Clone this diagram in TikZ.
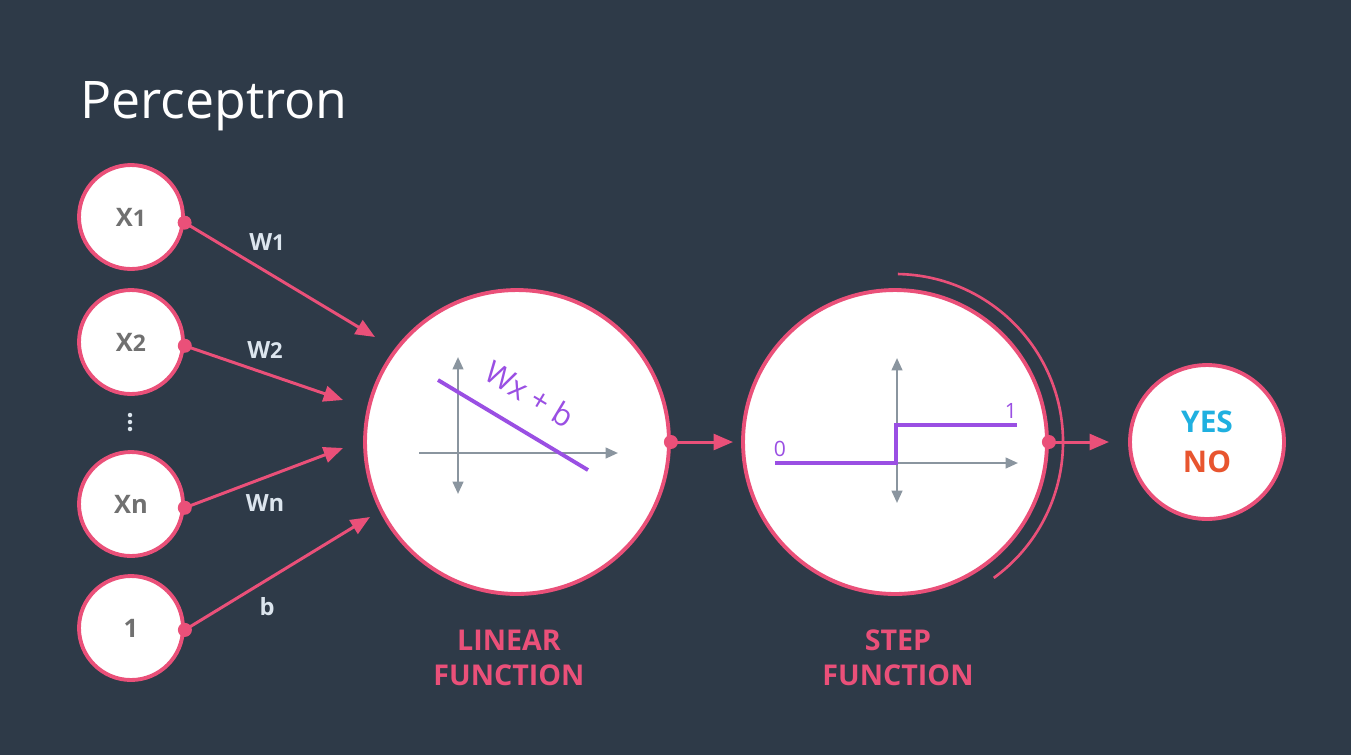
\documentclass[tikz,border=0pt]{standalone}
\usepackage{fontspec}
\setmainfont{Open Sans}
\usetikzlibrary{arrows.meta}
\definecolor{bg}{RGB}{46,58,72}
\definecolor{pink}{RGB}{234,80,121}
\definecolor{axisgray}{RGB}{138,149,159}
\definecolor{purp}{RGB}{154,79,227}
\definecolor{lbl}{RGB}{220,229,238}
\definecolor{ingray}{RGB}{112,112,112}
\definecolor{yescol}{RGB}{31,176,224}
\definecolor{nocol}{RGB}{232,85,47}
\tikzset{
  neuron/.style={circle, draw=pink, fill=white, line width=2.2pt, inner sep=0pt},
  inbox/.style={neuron, minimum size=2.08cm, font=\fontsize{14.5}{16}\selectfont\bfseries, text=ingray},
  bigbox/.style={neuron, minimum size=6.08cm},
  outbox/.style={neuron, minimum size=3.08cm},
  conn/.style={draw=pink, line width=1.7pt, -{Triangle[length=11pt,width=9pt]}},
  dotmark/.style={circle, fill=pink, inner sep=0pt, minimum size=0.28cm},
  wlabel/.style={text=lbl, font=\fontsize{13.5}{15}\selectfont\bfseries},
  axis/.style={draw=axisgray, line width=1.3pt},
  fnline/.style={draw=purp, line width=2.2pt},
  caption/.style={text=pink, font=\fontsize{16.3}{20}\selectfont\bfseries, align=center},
  smalldot/.style={circle, fill=lbl, inner sep=0pt, minimum size=0.09cm},
}
\begin{document}
\begin{tikzpicture}[x=0.02cm, y=-0.02cm]
\fill[bg] (0,0) rectangle (1351,755);
\useasboundingbox (0,0) rectangle (1351,755);

\node[text=white, font=\fontsize{29.5}{34}\selectfont, anchor=base west, inner sep=0pt] (title) at (80,118) {Perceptron};

% input nodes
\node[inbox] (x1) at (131,217) {X{\fontsize{13}{15}\selectfont 1}};
\node[inbox] (x2) at (131,342) {X{\fontsize{13}{15}\selectfont 2}};
\node[inbox] (xn) at (131,504) {Xn};
\node[inbox] (one) at (131,628) {1};
\node[smalldot] (v1) at (130,415) {};
\node[smalldot] (v2) at (130,422) {};
\node[smalldot] (v3) at (130,429) {};

% main nodes
\node[bigbox] (lin) at (517,442) {};
\node[bigbox] (step) at (895,442) {};
\node[outbox, align=center, font=\fontsize{17}{21}\selectfont\bfseries] (out) at (1207,442) {\textcolor{yescol}{YES}\\[2pt]\textcolor{nocol}{NO}};

% output arc
\draw[pink, line width=1.5pt] (895,442) ++(-89:168) arc[start angle=-89, end angle=54, radius=168];

% connector end points
\coordinate (t1) at (375,337);
\coordinate (t2) at (343,400);
\coordinate (tn) at (343,448);
\coordinate (tb) at (370,517);
\coordinate (tl) at (733,442);
\coordinate (ts) at (1109,442);

\draw[conn] (x1.-6) -- (t1);
\draw[conn] (x2.-4) -- (t2);
\draw[conn] (xn.-4) -- (tn);
\draw[conn] (one.-2) -- (tb);
\draw[conn] (lin.east) -- (tl);
\draw[conn] (step.east) -- (ts);

\node[dotmark] (d1) at (x1.-6) {};
\node[dotmark] (d2) at (x2.-4) {};
\node[dotmark] (dn) at (xn.-4) {};
\node[dotmark] (db) at (one.-2) {};
\node[dotmark] (dl) at (lin.east) {};
\node[dotmark] (ds) at (step.east) {};

% weight labels
\node[wlabel] (w1) at (267,242) {W{\fontsize{12.5}{15}\selectfont 1}};
\node[wlabel] (w2) at (265,350) {W{\fontsize{12.5}{15}\selectfont 2}};
\node[wlabel] (wn) at (265,503) {Wn};
\node[wlabel] (wb) at (267,607) {b};

% linear function graph
\draw[axis, {Triangle[length=7pt,width=6pt]}-{Triangle[length=7pt,width=6pt]}] (458,357) -- (458,494);
\draw[axis, -{Triangle[length=7pt,width=6pt]}] (419,453) -- (618,453);
\draw[fnline] (438,380) -- (588,470);
\node[text=purp, font=\fontsize{17.5}{20}\selectfont, rotate=-31, inner sep=1pt] (wxb) at (530,394) {Wx + b};

% step function graph
\draw[axis, {Triangle[length=7pt,width=6pt]}-{Triangle[length=7pt,width=6pt]}] (897,358) -- (897,503);
\draw[axis, -{Triangle[length=7pt,width=6pt]}] (897,463) -- (1018,463);
\draw[fnline] (775,463) -- (896,463) -- (896,425) -- (1017,425);
\node[text=purp, font=\fontsize{12}{14}\selectfont] (zero) at (780,449) {0};
\node[text=purp, font=\fontsize{12}{14}\selectfont] (onel) at (1011,411) {1};

% captions
\node[caption] (lincap) at (509,658) {LINEAR\\FUNCTION};
\node[caption] (stepcap) at (898,658) {STEP\\FUNCTION};
\end{tikzpicture}
\end{document}
